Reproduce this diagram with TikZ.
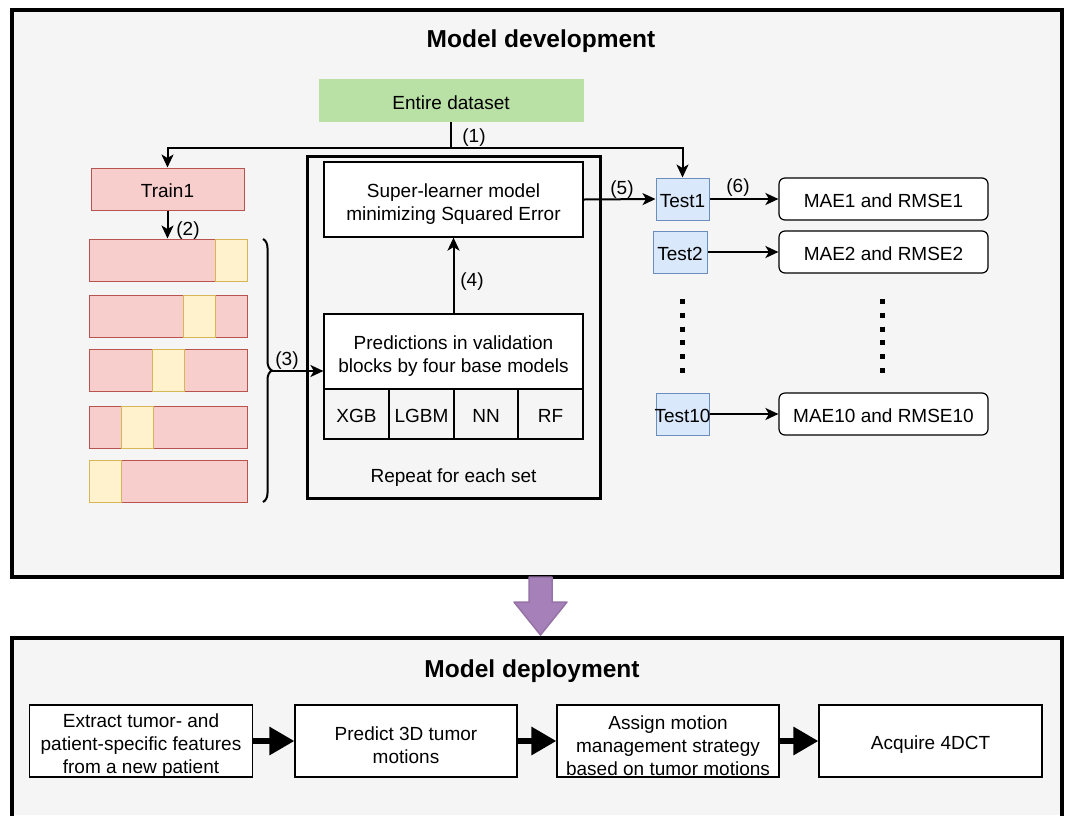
\documentclass[tikz,border=0pt]{standalone}
\usepackage{fontspec}
\setmainfont{Liberation Sans}
\usetikzlibrary{arrows.meta,decorations.pathreplacing}
\definecolor{panel}{HTML}{F5F5F5}
\definecolor{greenfill}{HTML}{B9E0A5}
\definecolor{redfill}{HTML}{F8CECC}
\definecolor{redline}{HTML}{B85450}
\definecolor{yelfill}{HTML}{FFF2CC}
\definecolor{yelline}{HTML}{D6B656}
\definecolor{bluefill}{HTML}{DAE8FC}
\definecolor{blueline}{HTML}{6C8EBF}
\definecolor{purfill}{HTML}{A680B8}
\definecolor{purline}{HTML}{9673A6}
\newcommand\nf{\fontsize{19}{23}\selectfont}
\newcommand\tf{\fontsize{24.5}{28}\selectfont\bfseries}
\begin{document}
\begin{tikzpicture}[x=1pt,y=-1pt,
  every node/.style={font=\nf, inner sep=0pt, align=center},
  one/.style={text height=17.5pt, text depth=0pt},
  wbox/.style={draw=black, line width=1.2pt, fill=white},
  cell/.style={one, draw=black, line width=1.2pt, minimum width=65pt, minimum height=50pt},
  bar/.style={draw=redline, line width=1pt, fill=redfill, minimum width=158pt, minimum height=42pt},
  fold/.style={draw=yelline, line width=1pt, fill=yelfill, minimum width=32pt, minimum height=42pt},
  testbox/.style={one, draw=blueline, line width=1pt, fill=bluefill, minimum width=53pt, minimum height=42pt},
  maebox/.style={one, wbox, rounded corners=6pt, minimum width=209pt, minimum height=42pt},
  depbox/.style={wbox, minimum width=223pt, minimum height=72pt},
  arr/.style={line width=2pt, -{Stealth[length=13pt,width=12pt,inset=3.5pt]}},
  big/.style={line width=6pt, -{Triangle[length=25pt,width=27pt]}},
  lbl/.style={one, font=\nf}
]
\useasboundingbox (0,0) rectangle (1070,815);
\fill[white] (0,0) rectangle (1070,815);
% panels
\node[draw=black, line width=4pt, fill=panel, minimum width=1050pt, minimum height=567pt] (dev) at (537,293.5) {};
\fill[panel] (12,638) rectangle (1062,815);
\draw[line width=4pt] (12,817) -- (12,638) -- (1062,638) -- (1062,817);
\node[font=\tf] (devt) at (541,41.5) {Model development};
\node[font=\tf] (dept) at (532,671.5) {Model deployment};

% top
\node[one, fill=greenfill, minimum width=265pt, minimum height=43pt] (ent) at (451,100.5) {Entire dataset};
\node[one, draw=redline, line width=1pt, fill=redfill, minimum width=153pt, minimum height=42pt] (train) at (167.5,189) {Train1};
\node[testbox] (t1) at (682.5,199) {Test1};
\node[testbox, minimum width=54pt] (t2) at (680,252) {Test2};
\node[testbox] (t10) at (682.5,414) {\makebox[53pt][c]{Test10}};
\node[maebox] (m1) at (883.5,199) {MAE1 and RMSE1};
\node[maebox] (m2) at (883.5,252) {MAE2 and RMSE2};
\node[maebox] (m10) at (883.5,414) {MAE10 and RMSE10};

\draw[line width=2pt] (ent.south) -- ++(0,26) coordinate (split);
\draw[arr] (split) -| (train.north);
\draw[arr] (split) -| (t1.north);
\node[lbl] (l1) at (474,134) {(1)};

% folds
\node[bar] (b1) at (168,260) {};
\node[bar] (b2) at (168,316) {};
\node[bar] (b3) at (168,370) {};
\node[bar] (b4) at (168,427) {};
\node[bar] (b5) at (168,481) {};
\node[fold] (f1) at (231,260) {};
\node[fold] (f2) at (199.5,316) {};
\node[fold] (f3) at (168.5,370) {};
\node[fold] (f4) at (137,427) {};
\node[fold] (f5) at (105,481) {};
\draw[arr] (train.south) -- (train.south |- b1.north);
\node[lbl] (l2) at (188,227) {(2)};

\draw[line width=2pt, decorate, decoration={brace, amplitude=9pt}] (263,239) -- (263,502);
\coordinate (btip) at (272,371);

% repeat box
\node[draw=black, line width=3pt, minimum width=293pt, minimum height=342pt] (rep) at (453.5,327) {};
\node (rept) at (453.5,478) {Repeat for each set};
\node[wbox, minimum width=259pt, minimum height=75pt] (sl) at (453.5,199.5) {};
\node (slt) at ([yshift=-4.5pt]sl.center) {Super-learner model\\minimizing Squared Error};
\node[wbox, minimum width=259pt, minimum height=75pt] (pred) at (453.5,351.5) {};
\node (predt) at ([yshift=-5pt]pred.center) {Predictions in validation\\blocks by four base models};
\node[cell] (c1) at (356.5,414) {XGB};
\node[cell] (c2) at (421.5,414) {LGBM};
\node[cell, minimum width=64pt] (c3) at (486,414) {NN};
\node[cell] (c4) at (550.5,414) {RF};

\draw[arr] (btip) -- (btip -| pred.west);
\node[lbl] (l3) at (287,357) {(3)};
\draw[arr] (pred.north) -- (sl.south);
\node[lbl] (l4) at (472,278) {(4)};
\draw[arr] (sl.east) -- (t1.west);
\node[lbl] (l5) at (622,186) {(5)};
\draw[arr] (t1.east) -- (m1.west);
\node[lbl] (l6) at (738,184) {(6)};
\draw[arr] (t2.east) -- (m2.west);
\draw[arr] (t10.east) -- (m10.west);

% dots
\coordinate (da) at (682,299);
\coordinate (db) at (682,373);
\coordinate (dc) at (882,299);
\coordinate (dd) at (882,373);
\draw[line width=5pt, dash pattern=on 5pt off 8.8pt] (da) -- (db);
\draw[line width=5pt, dash pattern=on 5pt off 8.8pt] (dc) -- (dd);

% purple arrow
\draw[fill=purfill, draw=purline, line width=1.5pt, line join=round]
  (529,577) -- (552,577) -- (552,602) -- (567,602) -- (540.5,635) -- (514,602) -- (529,602) -- cycle;

% deployment
\node[depbox] (d1) at (141,741) {};
\node[depbox, minimum width=222pt] (d2) at (406,741) {};
\node[depbox, minimum width=222pt] (d3) at (668,741) {};
\node[depbox, one] (d4) at (930.5,741) {Acquire 4DCT};
\node (d1t) at ([yshift=-5pt]d1.center) {Extract tumor- and\\patient-specific features\\from a new patient};
\node (d2t) at ([yshift=-4pt]d2.center) {Predict 3D tumor\\motions};
\node (d3t) at ([yshift=-5pt]d3.center) {Assign motion\\management strategy\\based on tumor motions};
\draw[big] (d1.east) -- (d2.west);
\draw[big] (d2.east) -- (d3.west);
\draw[big] (d3.east) -- (d4.west);
\end{tikzpicture}
\end{document}
